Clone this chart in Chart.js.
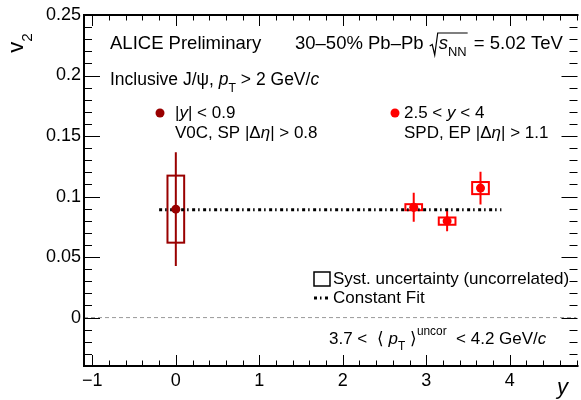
<!DOCTYPE html>
<html lang="en">
<head>
    <meta charset="UTF-8">
    <title>J/psi v2 vs rapidity</title>
    <style>
        body {
            margin: 0;
            background: #fff;
        }
        canvas {
            display: block;
        }
    </style>
</head>
<body>
<canvas id="v2Chart" width="581" height="400"></canvas>

<script src="https://cdn.jsdelivr.net/npm/chart.js"></script>
<script>
    // Mid-rapidity (|y| < 0.9)
    const midY = [0];
    const midV2 = [0.0896];
    const midStat = [0.047];
    const midSyst = [0.0277];

    // Forward rapidity (2.5 < y < 4)
    const fwdY = [2.85, 3.25, 3.65];
    const fwdV2 = [0.0912, 0.0797, 0.107];
    const fwdStat = [0.012, 0.0083, 0.0135];
    const fwdSyst = [0.0025, 0.003, 0.005];

    // Constant fit
    const fitValue = 0.089;
    const fitRange = [-0.2, 3.9];

    // Axis ranges and ticks
    const xMin = -1.1, xMax = 4.8;
    const yMin = -0.04, yMax = 0.25;
    const xTickVals = [-1, 0, 1, 2, 3, 4];
    const yTickVals = [0, 0.05, 0.1, 0.15, 0.2, 0.25];
    const xMinorStep = 0.2;
    const yMinorStep = 0.01;

    const FONT = '"Liberation Sans", Arial, Helvetica, sans-serif';
    const DARKRED = '#990000';
    const RED = '#ff0000';

    // draw a line of text made of pieces: normal, italic, sub, sup
    function partFont(style, size) {
        let s = size;
        if (style === 'sub' || style === 'sup') s = size * 0.7;
        return (style === 'i' ? 'italic ' : '') + s + 'px ' + FONT;
    }
    function richWidth(ctx, parts, size) {
        let w = 0;
        parts.forEach(p => {
            ctx.font = partFont(p[1], size);
            w += ctx.measureText(p[0]).width;
        });
        return w;
    }
    function drawRich(ctx, x, y, parts, size, align) {
        if (align === 'center') x -= richWidth(ctx, parts, size) / 2;
        if (align === 'right') x -= richWidth(ctx, parts, size);
        ctx.textBaseline = 'middle';
        ctx.textAlign = 'left';
        parts.forEach(p => {
            ctx.font = partFont(p[1], size);
            let dy = 0;
            if (p[1] === 'sub') dy = size * 0.48;
            if (p[1] === 'sup') dy = -size * 0.4;
            ctx.fillText(p[0], x, y + dy);
            x += ctx.measureText(p[0]).width;
        });
        return x;
    }

    function minorTicks(min, max, step) {
        const out = [];
        for (let k = Math.ceil(min / step - 1e-6); k <= Math.floor(max / step + 1e-6); k++) {
            out.push(k * step);
        }
        return out;
    }

    const rootStyle = {
        id: 'rootStyle',
        beforeDatasetsDraw(chart) {
            const ctx = chart.ctx;
            const xs = chart.scales.x, ys = chart.scales.y;
            const area = chart.chartArea;
            ctx.save();
            ctx.beginPath();
            ctx.rect(area.left, area.top, area.right - area.left, area.bottom - area.top);
            ctx.clip();

            function series(xv, yv, stat, syst, color) {
                ctx.strokeStyle = color;
                ctx.lineWidth = 2;
                xv.forEach((x, i) => {
                    const px = xs.getPixelForValue(x);
                    // statistical error bar
                    ctx.beginPath();
                    ctx.moveTo(px, ys.getPixelForValue(yv[i] + stat[i]));
                    ctx.lineTo(px, ys.getPixelForValue(yv[i] - stat[i]));
                    ctx.stroke();
                    // systematic box
                    const l = xs.getPixelForValue(x - 0.1);
                    const r = xs.getPixelForValue(x + 0.1);
                    const t = ys.getPixelForValue(yv[i] + syst[i]);
                    const b = ys.getPixelForValue(yv[i] - syst[i]);
                    ctx.strokeRect(l, t, r - l, b - t);
                });
            }
            series(midY, midV2, midStat, midSyst, DARKRED);
            series(fwdY, fwdV2, fwdStat, fwdSyst, RED);
            ctx.restore();
        },
        afterDraw(chart) {
            const ctx = chart.ctx;
            const xs = chart.scales.x, ys = chart.scales.y;
            const a = chart.chartArea;
            ctx.save();

            // frame (right edge sits just past the canvas in the original)
            ctx.strokeStyle = '#000';
            ctx.lineWidth = 2;
            ctx.beginPath();
            ctx.moveTo(a.right + 2, a.top);
            ctx.lineTo(a.left, a.top);
            ctx.lineTo(a.left, a.bottom);
            ctx.lineTo(a.right + 2, a.bottom);
            ctx.stroke();

            // ticks, pointing inward on all sides
            ctx.lineWidth = 1;
            ctx.beginPath();
            minorTicks(xMin, xMax, xMinorStep).forEach(v => {
                const major = xTickVals.some(t => Math.abs(t - v) < 1e-6);
                const len = major ? 11 : 5.5;
                const px = Math.round(xs.getPixelForValue(v)) + 0.5;
                ctx.moveTo(px, a.bottom); ctx.lineTo(px, a.bottom - len);
                ctx.moveTo(px, a.top); ctx.lineTo(px, a.top + len);
            });
            minorTicks(yMin, yMax, yMinorStep).forEach(v => {
                const major = yTickVals.some(t => Math.abs(t - v) < 1e-6);
                const len = major ? 16 : 8;
                const py = Math.round(ys.getPixelForValue(v)) + 0.5;
                ctx.moveTo(a.left, py); ctx.lineTo(a.left + len, py);
                ctx.moveTo(a.right + 1, py); ctx.lineTo(a.right + 1 - len, py);
            });
            ctx.stroke();

            ctx.fillStyle = '#000';

            // axis titles
            ctx.save();
            ctx.translate(17, 43);
            ctx.rotate(-Math.PI / 2);
            drawRich(ctx, 0, 0, [['v', 'n'], ['2', 'sub']], 22, 'center');
            ctx.restore();
            drawRich(ctx, 568, 388, [['y', 'i']], 22, 'right');

            // header
            drawRich(ctx, 110, 44, [['ALICE Preliminary', 'n']], 18.5);
            let x = drawRich(ctx, 295, 44, [['30\u201350% Pb\u2013Pb ', 'n']], 18.5);
            const sx = x + 1;
            let x2 = drawRich(ctx, sx + 9, 44, [['s', 'i'], ['NN', 'sub']], 18.5);
            ctx.lineWidth = 1.2;
            ctx.beginPath();
            ctx.moveTo(sx, 46);
            ctx.lineTo(sx + 2.5, 44.5);
            ctx.lineTo(sx + 5, 55);
            ctx.lineTo(sx + 8, 33);
            ctx.lineTo(x2 + 1, 33);
            ctx.stroke();
            drawRich(ctx, x2 + 2, 44, [[' = 5.02 TeV', 'n']], 18.5);

            drawRich(ctx, 110, 80, [['Inclusive J/\u03c8, ', 'n'], ['p', 'i'], ['T', 'sub'], [' > 2 GeV/', 'n'], ['c', 'i']], 17.5);

            // series labels
            ctx.fillStyle = DARKRED;
            ctx.beginPath(); ctx.arc(160, 113, 4.5, 0, 2 * Math.PI); ctx.fill();
            ctx.fillStyle = RED;
            ctx.beginPath(); ctx.arc(395, 113, 4.5, 0, 2 * Math.PI); ctx.fill();
            ctx.fillStyle = '#000';
            drawRich(ctx, 175, 113, [['|', 'n'], ['y', 'i'], ['| < 0.9', 'n']], 17);
            drawRich(ctx, 175, 133, [['V0C, SP |\u0394', 'n'], ['\u03b7', 'i'], ['| > 0.8', 'n']], 17);
            drawRich(ctx, 404, 113, [['2.5 < ', 'n'], ['y', 'i'], [' < 4', 'n']], 17);
            drawRich(ctx, 404, 133, [['SPD, EP |\u0394', 'n'], ['\u03b7', 'i'], ['| > 1.1', 'n']], 17);

            // legend
            ctx.strokeStyle = '#000';
            ctx.lineWidth = 1.5;
            ctx.strokeRect(314, 272, 16, 14);
            drawRich(ctx, 333, 279, [['Syst. uncertainty (uncorrelated)', 'n']], 17);
            ctx.lineWidth = 3;
            ctx.setLineDash([3, 3, 1.5, 3.5]);
            ctx.beginPath(); ctx.moveTo(314, 298); ctx.lineTo(331, 298); ctx.stroke();
            ctx.setLineDash([]);
            drawRich(ctx, 333, 298, [['Constant Fit', 'n']], 17);

            drawRich(ctx, 329, 339, [['3.7 <  \u27e8 ', 'n'], ['p', 'i'], ['T', 'sub'], [' \u27e9', 'n'], ['uncor', 'sup'], ['  < 4.2 GeV/', 'n'], ['c', 'i']], 17);

            ctx.restore();
        }
    };

    const chart = new Chart(document.getElementById('v2Chart').getContext('2d'), {
        type: 'scatter',
        data: {
            datasets: [
                {
                    label: '|y| < 0.9',
                    data: midY.map((x, i) => ({x: x, y: midV2[i]})),
                    backgroundColor: DARKRED,
                    borderColor: DARKRED,
                    pointRadius: 4.5,
                    pointBorderWidth: 0
                },
                {
                    label: '2.5 < y < 4',
                    data: fwdY.map((x, i) => ({x: x, y: fwdV2[i]})),
                    backgroundColor: RED,
                    borderColor: RED,
                    pointRadius: 4.5,
                    pointBorderWidth: 0
                },
                {
                    type: 'line',
                    label: 'Constant Fit',
                    data: fitRange.map(x => ({x: x, y: fitValue})),
                    borderColor: '#000',
                    borderWidth: 3,
                    borderDash: [3, 3, 1.5, 3.5],
                    pointRadius: 0
                },
                {
                    type: 'line',
                    label: 'zero',
                    data: [{x: xMin, y: 0}, {x: xMax, y: 0}],
                    borderColor: '#9a9a9a',
                    borderWidth: 1,
                    borderDash: [4, 3],
                    pointRadius: 0
                }
            ]
        },
        options: {
            responsive: false,
            animation: false,
            devicePixelRatio: 1,
            layout: {padding: {top: 15, right: 0, left: 0, bottom: 0}},
            plugins: {legend: {display: false}, tooltip: {enabled: false}},
            scales: {
                x: {
                    type: 'linear',
                    min: xMin,
                    max: xMax,
                    grid: {display: false, drawTicks: false},
                    border: {display: false},
                    afterBuildTicks: s => { s.ticks = xTickVals.map(v => ({value: v})); },
                    afterFit: s => { s.height = 34; },
                    ticks: {
                        color: '#000',
                        font: {family: FONT, size: 18},
                        padding: 4,
                        maxRotation: 0,
                        autoSkip: false,
                        callback: v => v < 0 ? '\u2212' + (-v) : String(v)
                    }
                },
                y: {
                    type: 'linear',
                    min: yMin,
                    max: yMax,
                    grid: {display: false, drawTicks: false},
                    border: {display: false},
                    afterBuildTicks: s => { s.ticks = yTickVals.map(v => ({value: v})); },
                    afterFit: s => { s.width = 84; },
                    ticks: {
                        color: '#000',
                        font: {family: FONT, size: 18},
                        padding: 3,
                        autoSkip: false,
                        callback: v => String(v)
                    }
                }
            }
        },
        plugins: [rootStyle]
    });
</script>
</body>
</html>
